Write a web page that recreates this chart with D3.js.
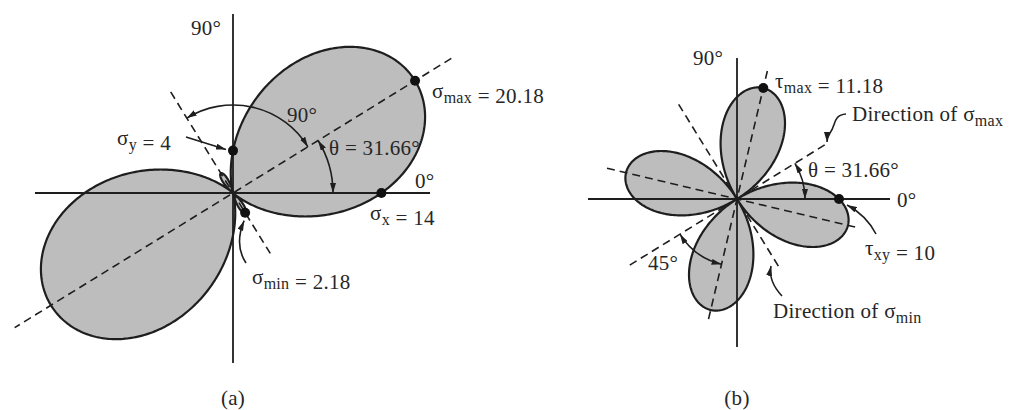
<!DOCTYPE html>
<html>
<head>
<meta charset="utf-8">
<script src="https://cdn.jsdelivr.net/npm/d3@7"></script>
<style>
  html, body { margin: 0; padding: 0; background: #fff; }
  svg { display: block; }
  text { font-family: "Liberation Serif", "Times New Roman", serif; fill: #262626; }
</style>
</head>
<body>
<svg id="chart" width="1009" height="410"></svg>
<script>
// Plane stress state (same units for every value)
const stressNames = ["σx", "σy", "τxy"];
const stressValues = [14, 4, 10];

// Principal results and their directions (degrees from the x axis)
const principalNames = ["σmax", "σmin", "τmax"];
const principalValues = [20.18, 2.18, 11.18];
const principalAngles = [31.66, 121.66, 76.66];

const axisAngleLabels = ["0°", "90°"];
const panelLabels = ["(a)", "(b)"];

const [sx, sy, txy] = stressValues;
const thetas = d3.range(0, 360, 0.5);

// Stress transformation: normal and shear stress on a plane rotated by θ
const rad = d => d * Math.PI / 180;
const normalStress = t => (sx + sy) / 2 + (sx - sy) / 2 * Math.cos(2 * rad(t)) + txy * Math.sin(2 * rad(t));
const shearStress = t => -(sx - sy) / 2 * Math.sin(2 * rad(t)) + txy * Math.cos(2 * rad(t));

const svg = d3.select("#chart");
const INK = "#1e1e1e";
const FILL = "#bdbdbd";

const defs = svg.append("defs");
defs.append("marker")
  .attr("id", "head")
  .attr("viewBox", "0 0 10 6")
  .attr("refX", 10).attr("refY", 3)
  .attr("markerWidth", 10).attr("markerHeight", 6)
  .attr("markerUnits", "userSpaceOnUse")
  .attr("orient", "auto-start-reverse")
  .append("path").attr("d", "M0,0 L10,3 L0,6 Z").attr("fill", INK);

// Position of a point at angle deg (math convention) and signed radius r
function polar(scale, deg, r) {
  const p = scale(r);
  return [p * Math.cos(rad(deg)), -p * Math.sin(rad(deg))];
}

function label(g, x, y, parts, anchor) {
  const t = g.append("text").attr("x", x).attr("y", y)
    .attr("font-size", 21).attr("letter-spacing", 0.3);
  if (anchor) t.attr("text-anchor", anchor);
  parts.forEach(([s, sub]) => {
    if (sub) {
      t.append("tspan").text(s).attr("font-size", 16).attr("dy", 5);
      t.append("tspan").attr("dy", -5).text("");
    } else {
      t.append("tspan").text(s);
    }
  });
  return t;
}

function line(g, p0, p1, dashed, width) {
  return g.append("line")
    .attr("x1", p0[0]).attr("y1", p0[1]).attr("x2", p1[0]).attr("y2", p1[1])
    .attr("stroke", INK).attr("stroke-width", width || 1.6)
    .attr("stroke-dasharray", dashed ? "8,5" : null);
}

function radialLine(g, scale, deg, rFar, rNear) {
  // dashed direction line through the origin, lengths given in stress units
  line(g, polar(scale, deg, rFar), polar(scale, deg, -rNear), true, 1.6);
}

function angleArc(g, radius, fromDeg, toDeg) {
  const p = d3.path();
  const a0 = -rad(fromDeg), a1 = -rad(toDeg);
  p.moveTo(radius * Math.cos(a0), radius * Math.sin(a0));
  p.arc(0, 0, radius, a0, a1, toDeg > fromDeg);
  g.append("path").attr("d", p.toString()).attr("fill", "none")
    .attr("stroke", INK).attr("stroke-width", 1.6)
    .attr("marker-start", "url(#head)").attr("marker-end", "url(#head)");
}

function leader(g, d) {
  g.append("path").attr("d", d).attr("fill", "none")
    .attr("stroke", INK).attr("stroke-width", 1.6)
    .attr("marker-end", "url(#head)");
}

function dot(g, xy) {
  g.append("circle").attr("cx", xy[0]).attr("cy", xy[1]).attr("r", 5).attr("fill", "#111");
}

const radial = scale => d3.lineRadial()
  .angle(d => Math.PI / 2 - rad(d.t))
  .radius(d => scale(d.r))
  .curve(d3.curveLinearClosed);

// ---------- (a) normal stress ----------
const ga = svg.append("g").attr("transform", "translate(233,193)");
const rA = d3.scaleLinear().domain([0, 20]).range([0, 212]);

ga.append("path")
  .datum(thetas.map(t => ({ t, r: normalStress(t) })))
  .attr("d", radial(rA))
  .attr("fill", FILL).attr("stroke", INK).attr("stroke-width", 2.2)
  .attr("stroke-linejoin", "round");

line(ga, [-198, 0], [197, 0], false, 1.8);
line(ga, [0, -179], [0, 170], false, 1.8);

radialLine(ga, rA, principalAngles[0], 24.2, 24.2);
radialLine(ga, rA, principalAngles[1], 11.2, 6.7);

angleArc(ga, 88, principalAngles[1], principalAngles[0]);
angleArc(ga, 100, principalAngles[0], 0);

const pSx = polar(rA, 0, sx);
const pSy = polar(rA, 90, sy);
const pMax = polar(rA, principalAngles[0], principalValues[0]);
const pMin = polar(rA, principalAngles[1], -principalValues[1]);
[pSx, pSy, pMax, pMin].forEach(p => dot(ga, p));

leader(ga, `M-47,-56 L${pSy[0] - 7},${pSy[1] - 1}`);
leader(ga, `M13,70 Q1,52 ${pMin[0] - 1},${pMin[1] + 8}`);

label(ga, -42, -158, [[axisAngleLabels[1]]]);
label(ga, 182, -5, [[axisAngleLabels[0]]]);
label(ga, -116, -48, [["σ"], ["y", 1], [" = " + sy]]);
label(ga, 199, -95, [["σ"], ["max", 1], [" = " + principalValues[0]]]);
label(ga, 96, -38, [["θ = " + principalAngles[0] + "°"]]);
label(ga, 54, -71, [["90°"]]);
label(ga, 137, 27, [["σ"], ["x", 1], [" = " + sx]]);
label(ga, 19, 91, [["σ"], ["min", 1], [" = " + principalValues[1]]]);
label(ga, 0, 212, [[panelLabels[0]]], "middle");

// ---------- (b) shear stress ----------
const gb = svg.append("g").attr("transform", "translate(737,199)");
const rB = d3.scaleLinear().domain([0, 10]).range([0, 102]);

gb.append("path")
  .datum(thetas.map(t => ({ t, r: shearStress(t) })))
  .attr("d", radial(rB))
  .attr("fill", FILL).attr("stroke", INK).attr("stroke-width", 2.2)
  .attr("stroke-linejoin", "round");

line(gb, [-149, 0], [153, 0], false, 1.8);
line(gb, [0, -141], [0, 148], false, 1.8);

radialLine(gb, rB, principalAngles[0], 10.1, 12.4);
radialLine(gb, rB, principalAngles[1], 10.9, 8.0);
radialLine(gb, rB, principalAngles[2], 12.9, 12.2);
radialLine(gb, rB, principalAngles[2] + 90, 13.1, 12.2);

angleArc(gb, 68, principalAngles[0], 0);
angleArc(gb, 67, principalAngles[0] + 180, principalAngles[2] + 180);

const pTmax = polar(rB, principalAngles[2], principalValues[2]);
const pTxy = polar(rB, 0, txy);
[pTmax, pTxy].forEach(p => dot(gb, p));

leader(gb, `M139,35 Q129,16 ${pTxy[0] + 8},${pTxy[1] + 6}`);
leader(gb, "M109,-85 C96,-84 99,-74 93,-66 C91,-63 90,-61 90,-57");
leader(gb, "M45,97 Q31,82 34,67");

label(gb, -44, -134, [[axisAngleLabels[1]]]);
label(gb, 160, 8, [[axisAngleLabels[0]]]);
label(gb, 38, -111, [["τ"], ["max", 1], [" = " + principalValues[2]]]);
label(gb, 115, -78, [["Direction of σ"], ["max", 1]]);
label(gb, 71, -22, [["θ = " + principalAngles[0] + "°"]]);
label(gb, 128, 56, [["τ"], ["xy", 1], [" = " + txy]]);
label(gb, -89, 71, [["45°"]]);
label(gb, 36, 119, [["Direction of σ"], ["min", 1]]);
label(gb, 0, 206, [[panelLabels[1]]], "middle");
</script>
</body>
</html>
